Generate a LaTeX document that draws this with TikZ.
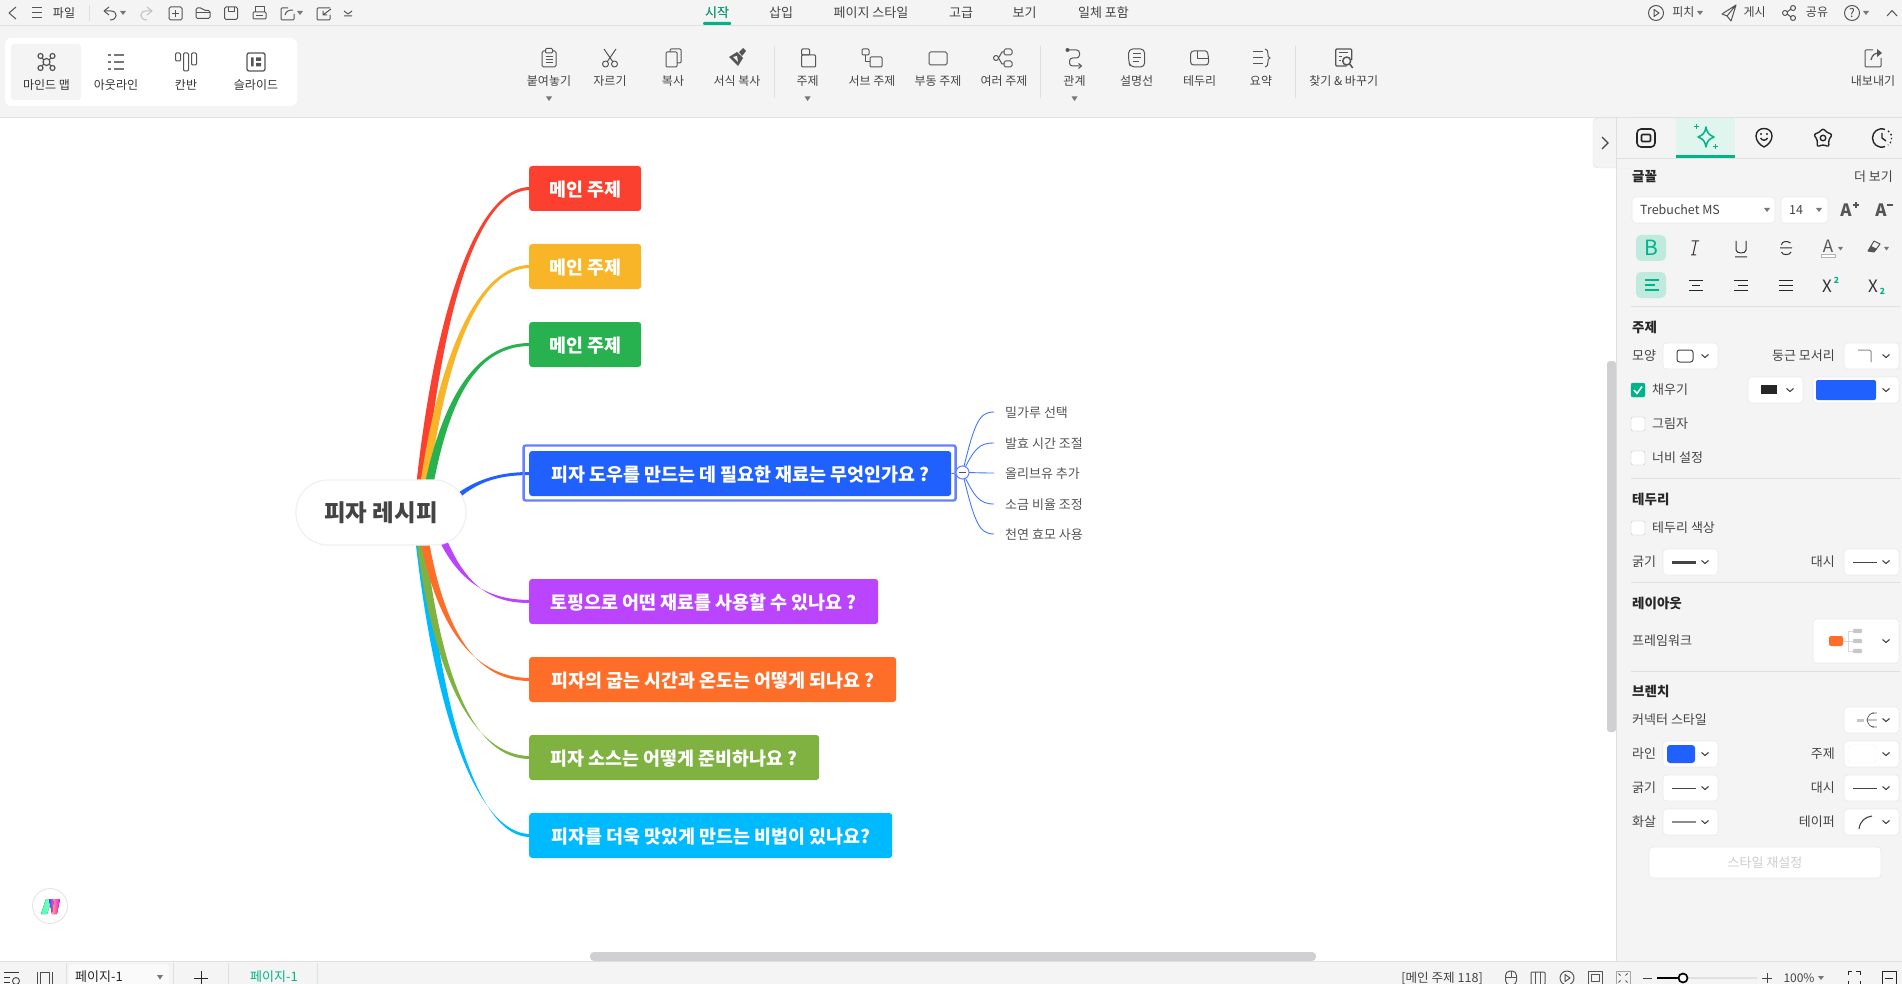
\documentclass[tikz,border=0pt]{standalone}
\usepackage{fontspec}
\setmainfont{Noto Sans CJK KR}
\usepackage{tikz}
\usetikzlibrary{calc,backgrounds}
\definecolor{cred}{HTML}{FC4030}
\definecolor{cyel}{HTML}{F8B528}
\definecolor{cgrn}{HTML}{27B14F}
\definecolor{cblu}{HTML}{2060FF}
\definecolor{cpur}{HTML}{BB44FF}
\definecolor{cora}{HTML}{FF6E28}
\definecolor{coli}{HTML}{7FB241}
\definecolor{ccya}{HTML}{00BAFF}
\definecolor{cfrm}{HTML}{6680FF}
\definecolor{cbar}{HTML}{F4F4F4}
\definecolor{cline}{HTML}{E0E0E0}
\definecolor{cico}{HTML}{555555}
\definecolor{ctxt}{HTML}{444444}
\definecolor{cact}{HTML}{00B388}
\definecolor{csel}{HTML}{C0EADD}
\definecolor{cscr}{HTML}{D0D0D3}

\begin{document}
\begin{tikzpicture}[x=1pt,y=-1pt]
    \tikzstyle{ribtxt} = [font=\fontsize{12}{14}\selectfont,text=ctxt,inner sep=0,text height=10pt,text depth=1.5pt]
    \tikzstyle{tabtxt} = [font=\fontsize{13}{15}\selectfont,text=ctxt,inner sep=0,text height=11pt,text depth=1.5pt]
    \tikzstyle{paneltxt} = [font=\fontsize{13}{15}\selectfont,text=ctxt,inner sep=0,text height=11pt,text depth=1.5pt]
    \tikzstyle{panelhdr} = [font=\fontsize{13.5}{15}\selectfont\bfseries,text=black!85,anchor=west,inner sep=0,text height=11.5pt,text depth=1.5pt]
    \tikzstyle{topicbox} = [font=\fontsize{18.4}{20}\selectfont\bfseries,text=white,anchor=west,rounded corners=3,minimum height=45,inner sep=0,text height=17.5pt,text depth=2pt]
    \tikzstyle{subtxt} = [font=\fontsize{13}{15}\selectfont,text=cico,anchor=west,inner xsep=11pt,inner ysep=0,text height=13pt,text depth=1.5pt]
    \tikzstyle{rootbox} = [font=\fontsize{23.5}{26}\selectfont\bfseries,text=ctxt,fill=white,draw=black!6,line width=1.2,rounded corners=32,minimum width=170,minimum height=65,inner sep=0,text height=20pt,text depth=2.5pt]
    \tikzstyle{combobox} = [fill=white,draw=black!8,line width=.7,rounded corners=3.5]
    \tikzstyle{chev} = [draw=ctxt,line width=1.1]
    \tikzstyle{icon} = [draw=cico,line width=1,line join=round]
    \tikzstyle{sepline} = [draw=cline,line width=1]
    \tikzstyle{tick} = [fill=cico!80]
    \useasboundingbox (0,0) rectangle (1902,984);

    % bars
    \fill[cbar] (0,0) rectangle (1902,117);
    \draw[sepline] (0,25.5) -- (1902,25.5);
    \draw[sepline] (0,117.5) -- (1902,117.5);
    \fill[cbar] (0,961) rectangle (1902,984);
    \draw[sepline] (0,961) -- (1902,961);
    \fill[cbar] (1616.5,118) rectangle (1902,961);
    \draw[sepline] (1616.5,118) -- (1616.5,961);
    \fill[white,rounded corners=6] (5,38) rectangle (297,106);
    \fill[cbar,rounded corners=3] (11,44) rectangle (81,100);
    \filldraw[fill=cbar,draw=cline,rounded corners=5] (1630,118) -- (1593,118) -- (1593,168) -- (1630,168);
    \fill[cbar] (1617,118) rectangle (1630,168);
    \draw[sepline] (1616.5,118) -- (1616.5,168);
    \draw[chev] (1602,137) -- (1608,143) -- (1602,149);
    \fill[cscr,rounded corners=3] (1607,361) rectangle (1616,732);
    \fill[cscr,rounded corners=4] (590,952) rectangle (1316,961);

    % top bar texts
    \node[ribtxt,text=black!80] (file) at (64,13) {파일};
    \foreach \nm/\px/\txt in {tstart/717/시작,tins/781/삽입,tpage/871/페이지 스타일,tadv/961/고급,tview/1024.5/보기,tall/1103.5/일체 포함}
    {
      \node[tabtxt] (\nm) at (\px,12.5) {\txt};
    }
    \node[tabtxt,text=cact] at (tstart) {시작};
    \fill[cact,rounded corners=1] (703,22) rectangle (731,25);
    \foreach \nm/\px/\txt in {tpitch/1683.4/피치,tpub/1754.6/게시,tshare/1817/공유}
    {
      \node[ribtxt] (\nm) at (\px,12.5) {\txt};
    }
    \draw[sepline] (89,5) -- (89,21);

    % top bar icons
    \draw[icon] (16,7) -- (9,13) -- (16,19);
    \foreach \y in {8,13,18}
    {
      \draw[icon] (32,\y) -- (42,\y);
    }
    \draw[icon] (109,7) -- (104,11) -- (109,15);
    \draw[icon] (104,11) -- (111,11) .. controls (118,11) and (118,20) .. (110,20);
    \draw[icon,draw=black!25] (147,7) -- (152,11) -- (147,15);
    \draw[icon,draw=black!25] (152,11) -- (146,11) .. controls (139,11) and (139,20) .. (147,20);
    \draw[icon,rounded corners=1.5] (169,7) rectangle (182,20);
    \draw[icon] (172,13.5) -- (179,13.5) (175.5,10) -- (175.5,17);
    \draw[icon,rounded corners=1.5] (196,18.5) -- (196,8) -- (202,8) -- (204,10.5) -- (210,10.5) -- (210,18.5) -- cycle;
    \draw[icon] (196,13) -- (210,13);
    \draw[icon,rounded corners=1.5] (224.5,7) rectangle (237.5,19.5);
    \draw[icon] (228,7) -- (228,12) -- (234,12) -- (234,7);
    \draw[icon,rounded corners=1] (253,12) rectangle (266,19);
    \draw[icon] (255,12) -- (255,7) -- (264,7) -- (264,12) (256,16) -- (263,16);
    \draw[icon,rounded corners=1] (288,8) -- (281,8) -- (281,20) -- (294,20) -- (294,14);
    \draw[icon] (285,15) .. controls (286,11) and (289,10) .. (293,10);
    \draw[icon,rounded corners=1] (330,8) -- (317,8) -- (317,20) -- (330,20) -- (330,15);
    \draw[icon] (331,9) -- (323,15) (323,11) -- (323,15) -- (327,15);
    \draw[icon] (344,11) -- (348,14) -- (352,11) (344,16) -- (352,16);
    \foreach \x in {123,300}
    {
      \fill[tick] (\x-3,11) -- (\x+3,11) -- (\x,15) -- cycle;
    }

    % view buttons
    \foreach \nm/\px/\txt in {vmind/46.5/마인드 맵,vout/116/아웃라인,vkan/186/칸반,vsli/256/슬라이드}
    {
      \node[ribtxt,text=black!80] (\nm) at (\px,85) {\txt};
    }
    \begin{scope}[shift={(46.5,62)}]
      \draw[icon,line width=1.2] (-6,-5) -- (6,5) (6,-5) -- (-6,5);
      \filldraw[icon,line width=1.2,fill=cbar] (0,0) circle (3.5);
      \foreach \x/\y in {-6/-6,6/-6,-6/6,6/6}
      {
        \filldraw[icon,line width=1.2,fill=cbar] (\x,\y) circle (2.5);
      }
    \end{scope}
    \begin{scope}[shift={(116,62)}]
      \foreach \y in {-7,0,7}
      {
        \draw[icon,draw=cico!80,line width=1.3] (-8,\y) -- (-5,\y) (-2,\y) -- (8,\y);
      }
    \end{scope}
    \begin{scope}[shift={(186,62)}]
      \foreach \x/\y in {-8/-1,0/9,8/3}
      {
        \draw[icon,rounded corners=1.2] (\x-2.5,-9) rectangle (\x+2.5,\y);
      }
    \end{scope}
    \begin{scope}[shift={(256,62)}]
      \draw[icon,line width=1.3,rounded corners=2] (-9,-9) rectangle (9,9);
      \fill[cico] (-5,-4.5) rectangle (-2.5,4.5) (0,-4.5) rectangle (5,-1) (0,1) rectangle (5,4.5);
    \end{scope}

    % ribbon
    \foreach \nm/\px/\txt in {rpaste/549/붙여놓기,rcut/610/자르기,rcopy/673/복사,rform/737/서식 복사,rtop/807.6/주제,rsub/872/서브 주제,rflo/938/부동 주제,rmul/1004/여러 주제,rrel/1074.5/관계,rcal/1136.6/설명선,rbou/1199.6/테두리,rsum/1261/요약,rfind/1343.7/찾기 \& 바꾸기,rexp/1873/내보내기}
    {
      \node[ribtxt] (\nm) at (\px,81) {\txt};
    }
    \foreach \x in {549,807.6,1074.5}
    {
      \fill[tick] (\x-3,96.5) -- (\x+3,96.5) -- (\x,101) -- cycle;
    }
    \foreach \x in {774,1040.6,1295}
    {
      \draw[sepline] (\x,46) -- (\x,98);
    }
    \begin{scope}[shift={(549,58)}]
      \draw[icon,rounded corners=1.5] (-7,-7) rectangle (7,9);
      \filldraw[icon,fill=cbar,rounded corners=1] (-3.5,-9.5) rectangle (3.5,-5);
      \draw[icon] (-3.5,-1) -- (3.5,-1) (-3.5,2) -- (3.5,2) (-3.5,5) -- (3.5,5);
    \end{scope}
    \begin{scope}[shift={(610,58)}]
      \draw[icon] (-6,-9) -- (3,4) (6,-9) -- (-3,4);
      \draw[icon] (-4.5,6) circle (3) (4.5,6) circle (3);
    \end{scope}
    \begin{scope}[shift={(673,58)}]
      \draw[icon,rounded corners=1] (-3,-6) -- (-3,-9) -- (8,-9) -- (8,5) -- (4,5);
      \draw[icon,rounded corners=1] (-7,-6) rectangle (4,9);
    \end{scope}
    \begin{scope}[shift={(737,58)}]
      \fill[cico] (0,-6) -- (6,0) -- (1,8) -- (-8,-1) -- cycle;
      \fill[cico] (2,-6) -- (6,-10) -- (9,-7) -- (5,-2) -- cycle;
      \fill[cbar] (-4,-1) -- (0,-2) -- (1,4) -- cycle;
    \end{scope}
    \begin{scope}[shift={(807.6,58)}]
      \draw[icon,rounded corners=1] (-6,-9) rectangle (2,-3);
      \draw[icon,rounded corners=1] (-6,-3) rectangle (8,9);
      \draw[icon] (-6,1) -- (-6,3);
    \end{scope}
    \begin{scope}[shift={(872,58)}]
      \draw[icon,rounded corners=1] (-10,-9) rectangle (-3,-3);
      \draw[icon] (-6.5,-3) -- (-6.5,4) -- (-2,4);
      \draw[icon,rounded corners=1] (-2,-1) rectangle (10,9);
    \end{scope}
    \draw[icon,rounded corners=1.5] (929,52) rectangle (947,65);
    \begin{scope}[shift={(1004,58)}]
      \draw[icon,rounded corners=1.5] (0,-9) rectangle (8,-3);
      \draw[icon,rounded corners=1.5] (0,3) rectangle (8,9);
      \draw[icon] (-8,0) circle (2.5);
      \draw[icon] (-5.5,0) -- (-2,-6) -- (0,-6) (-5.5,0) -- (-2,6) -- (0,6);
    \end{scope}
    \begin{scope}[shift={(1074.5,58)}]
      \fill[cico] (-7,-8) circle (2);
      \draw[icon,rounded corners=3] (-7,-8) -- (5,-8) -- (5,0) -- (-5,0) -- (-5,8) -- (6,8);
      \draw[icon] (4,5.5) -- (7,8) -- (4,10.5);
    \end{scope}
    \begin{scope}[shift={(1136.6,58)}]
      \draw[icon,rounded corners=4] (-8,-9) -- (8,-9) -- (8,9) -- (-6,9) -- (-8,4) -- cycle;
      \draw[icon] (-4,-4) -- (4,-4) (-4,0) -- (4,0) (-4,4) -- (2,4);
    \end{scope}
    \begin{scope}[shift={(1199.6,58)}]
      \draw[icon,rounded corners=3] (-9,-7) -- (3,-7) .. controls (8,-7) and (9,-3) .. (9,7) -- (-9,7) -- cycle;
      \draw[icon] (-2,-7) -- (-2,1) -- (9,1);
    \end{scope}
    \begin{scope}[shift={(1261,58)}]
      \draw[icon] (-8,-6) -- (2,-6) (-8,0) -- (2,0) (-8,6) -- (2,6);
      \draw[icon] (4,-9) .. controls (9,-9) and (5,0) .. (9,0) .. controls (5,0) and (9,9) .. (4,9);
    \end{scope}
    \begin{scope}[shift={(1343.7,58)}]
      \draw[icon,line width=1.2,rounded corners=1] (3,8) -- (-8,8) -- (-8,-9) -- (8,-9) -- (8,2);
      \draw[icon] (-5,-5) -- (4,-5) (-5,-1) -- (-2,-1) (-5,3) -- (-3,3);
      \draw[icon,line width=1.5] (3,3) circle (4) (6,6) -- (9,10);
    \end{scope}
    \begin{scope}[shift={(1873,58)}]
      \draw[icon,rounded corners=1] (0,-8) -- (-8,-8) -- (-8,9) -- (8,9) -- (8,0);
      \draw[icon,line width=1.2] (-2,2) .. controls (-1,-3) and (2,-5) .. (6,-5);
      \fill[cico] (4,-9) -- (9,-5) -- (4,-1) -- cycle;
    \end{scope}

    % right of the top bar
    \draw[icon] (1656,13) circle (7.5);
    \draw[icon] (1654,9.5) -- (1659,13) -- (1654,16.5) -- cycle;
    \fill[tick] (1697,11) -- (1703,11) -- (1700,15) -- cycle;
    \draw[icon] (1736,5) -- (1722,14) -- (1727,16) -- (1736,5) -- (1731,21) -- (1727,16);
    \draw[icon] (1785,13) circle (2.5) (1793,8) circle (2.5) (1793,18) circle (2.5);
    \draw[icon] (1787,12) -- (1791,9) (1787,14) -- (1791,17);
    \draw[icon] (1852,13) circle (7.5);
    \node[ribtxt] (qmark) at (1852,13) {?};
    \fill[tick] (1863,11) -- (1869,11) -- (1866,15) -- cycle;
    \draw[icon] (1887,16) -- (1892,10.5) -- (1897,16);

    % panel tabs
    \fill[csel!50] (1676,118) rectangle (1735,155);
    \fill[cact] (1676,155) rectangle (1735,158);
    \draw[sepline] (1617,158.5) -- (1902,158.5);
    \begin{scope}[shift={(1646,138)},icon/.append style={draw=black!85,line width=1.6}]
      \draw[icon,rounded corners=4] (-9,-9) rectangle (9,9);
      \draw[icon,rounded corners=1] (-4.5,-3.5) rectangle (4.5,3.5);
    \end{scope}
    \begin{scope}[shift={(1706,137)}]
      \draw[draw=cact,line width=1.5,line join=round] (0,-10) .. controls (1,-4) and (3,-2) .. (8,0) .. controls (3,2) and (1,4) .. (0,10) .. controls (-1,4) and (-3,2) .. (-8,0) .. controls (-3,-2) and (-1,-4) .. (0,-10) -- cycle;
      \draw[cact,line width=1] (-10,-13) -- (-10,-8) (-12.5,-10.5) -- (-7.5,-10.5) (9,7) -- (9,12) (6.5,9.5) -- (11.5,9.5);
    \end{scope}
    \begin{scope}[shift={(1764,137)},icon/.append style={draw=black!85,line width=1.4}]
      \draw[icon] (0,10) .. controls (-4,8) and (-8,4) .. (-8,-1) .. controls (-8,-11) and (8,-11) .. (8,-1) .. controls (8,4) and (4,8) .. (0,10) -- cycle;
      \fill[black!85] (-3,-3) circle (1.1) (3,-3) circle (1.1);
      \draw[icon] (-3.5,1) .. controls (-1.5,4) and (1.5,4) .. (3.5,1);
    \end{scope}
    \begin{scope}[shift={(1823,138)},icon/.append style={draw=black!85,line width=1.4}]
      \draw[icon,rounded corners=2.5] (0,-10) -- (3,-6) -- (9.5,-3.5) -- (5.5,2) -- (6,9) -- (0,6.5) -- (-6,9) -- (-5.5,2) -- (-9.5,-3.5) -- (-3,-6) -- cycle;
      \draw[icon] (0,0) circle (2.8);
    \end{scope}
    \begin{scope}[shift={(1882,138)},icon/.append style={draw=black!85,line width=1.4}]
      \draw[icon] (3,-8.5) .. controls (-4,-11) and (-9.5,-6) .. (-9.5,0) .. controls (-9.5,6) and (-4,11) .. (3,8.5);
      \draw[icon] (0,-5) -- (0,0) -- (4,3);
      \draw[icon,dash pattern=on 1.5pt off 2.5pt] (6,-7) .. controls (9,-5) and (10,-2) .. (9.5,1) .. controls (9,4) and (8,6) .. (6,7);
    \end{scope}

    % panel
    \foreach \y in {306,478,582,671}
    {
      \draw[sepline] (1631,\y) -- (1900,\y);
    }
    \foreach \nm/\y/\txt in {hfont/177/글꼴,htop/327/주제,hbor/499/테두리,hlay/603/레이아웃,hbra/691/브렌치}
    {
      \node[panelhdr] (\nm) at (1632,\y) {\txt};
    }
    \foreach \xa/\ya/\xb/\yb in {1632/197/1775/223,1781/197/1828/223,1663/343/1718/369,1844/343/1899/369,1748/377/1803/403,1813/377/1899/403,1663/549/1718/575,1844/549/1899/575,1813/619/1899/663,1844/707/1899/733,1663/741/1718/767,1844/741/1899/767,1663/775/1718/801,1844/775/1899/801,1663/809/1718/835,1844/809/1899/835,1649/847/1881/878}
    {
      \filldraw[combobox] (\xa,\ya) rectangle (\xb,\yb);
    }
    \foreach \x/\y in {1705/356,1886/356,1790/390,1886/390,1705/562,1886/562,1886/641,1886/720,1705/754,1886/754,1705/788,1886/788,1705/822,1886/822}
    {
      \draw[chev] (\x-3.5,\y-1.5) -- (\x,\y+1.5) -- (\x+3.5,\y-1.5);
    }
    \foreach \x in {1767,1819}
    {
      \fill[tick] (\x-3,208) -- (\x+3,208) -- (\x,212) -- cycle;
    }
    \node[paneltxt,anchor=east] (more) at (1893,177) {더 보기};
    \node[paneltxt,anchor=west,font=\fontsize{12.5}{15}\selectfont] (fname) at (1640,210) {Trebuchet MS};
    \node[paneltxt,font=\fontsize{12.5}{15}\selectfont] (fsize) at (1796,210) {14};
    \foreach \nm/\y/\txt in {lshape/356/모양,lgrow/562/굵기,lline/754/라인,lthick/788/굵기,larrow/822/화살}
    {
      \node[paneltxt,anchor=west] (\nm) at (1632,\y) {\txt};
    }
    \foreach \nm/\y/\txt in {lround/356/둥근 모서리,ldash/562/대시,ltopic/754/주제,ldashb/788/대시,ltaper/822/테이퍼}
    {
      \node[paneltxt,anchor=east] (\nm) at (1835,\y) {\txt};
    }
    \node[paneltxt,anchor=west] (lframe) at (1632,641) {프레임워크};
    \node[paneltxt,anchor=west] (lconn) at (1632,720) {커넥터 스타일};
    \node[paneltxt,text=black!20] (lreset) at (1765,863) {스타일 재설정};

    % format rows
    \fill[csel,rounded corners=5] (1636,235) rectangle (1666,261);
    \fill[csel,rounded corners=5] (1636,272) rectangle (1666,298);
    \node[font=\fontsize{21}{22}\selectfont,text=cact,inner sep=0] (fbold) at (1651,248) {B};
    \draw[icon,draw=black!80] (1691.5,241) -- (1699,241) (1691,255) -- (1696,255) (1696,241) -- (1693,255);
    \draw[icon,draw=black!80] (1736,241) -- (1736,250) .. controls (1736,254) and (1746,254) .. (1746,250) -- (1746,241) (1735,257) -- (1747,257);
    \draw[icon,draw=black!80] (1780,248) -- (1792,248) (1790.5,243) .. controls (1788,240.5) and (1781,241) .. (1781.5,245) (1781.5,252) .. controls (1782,255.5) and (1790,255.5) .. (1791,252);
    \node[font=\fontsize{17}{20}\selectfont,text=cico,inner sep=0] (fcol) at (1828,246) {A};
    \draw[draw=black!30,fill=white] (1821,254) rectangle (1835,257);
    \fill[tick] (1838,247) -- (1843,247) -- (1840.5,250.5) -- cycle;
    \draw[icon] (1868,251) -- (1874,241) -- (1880,244) -- (1874,252) -- cycle;
    \fill[cico] (1868,251) -- (1871,246) -- (1877,249) -- (1874,252) -- cycle;
    \fill[tick] (1884,247) -- (1889,247) -- (1886.5,250.5) -- cycle;
    \draw[cact,line width=1.1] (1645,280) -- (1659,280) (1645,285) -- (1655,285) (1645,290) -- (1659,290);
    \draw[icon,draw=black!85] (1689,280) -- (1703,280) (1692,285) -- (1700,285) (1689,290) -- (1703,290);
    \draw[icon,draw=black!85] (1734,280) -- (1748,280) (1738,285) -- (1748,285) (1734,290) -- (1748,290);
    \draw[icon,draw=black!85] (1779,280) -- (1793,280) (1779,285) -- (1793,285) (1779,290) -- (1793,290);
    \node[font=\fontsize{17}{18}\selectfont,text=black!80,inner sep=0] (fsupx) at (1827,286) {X};
    \node[font=\fontsize{8.5}{9}\selectfont\bfseries,text=cact,inner sep=0] (fsupn) at (1836.5,280) {2};
    \node[font=\fontsize{17}{18}\selectfont,text=black!80,inner sep=0] (fsubx) at (1873,286) {X};
    \node[font=\fontsize{8.5}{9}\selectfont\bfseries,text=cact,inner sep=0] (fsubn) at (1882.5,291) {2};
    \node[font=\fontsize{17}{18}\selectfont\bfseries,text=cico,inner sep=0] (fincr) at (1846,210) {A};
    \draw[cico,line width=1.3] (1853,205) -- (1859,205) (1856,202) -- (1856,208);
    \node[font=\fontsize{17}{18}\selectfont\bfseries,text=cico,inner sep=0] (fdecr) at (1881,210) {A};
    \draw[cico,line width=1.3] (1887,205) -- (1893,205);

    % checkboxes
    \filldraw[fill=cact,draw=cact,rounded corners=2] (1631,383) rectangle (1645,397);
    \draw[white,line width=1.5] (1634,390) -- (1637,393.5) -- (1642,386.5);
    \foreach \y in {424,458,528}
    {
      \filldraw[fill=white,draw=black!25,rounded corners=2] (1631,\y-7) rectangle (1645,\y+7);
    }
    \foreach \nm/\y/\txt in {lfill/390/채우기,lshad/424/그림자,lwid/458/너비 설정,lbcol/528/테두리 색상}
    {
      \node[paneltxt,anchor=west] (\nm) at (1652,\y) {\txt};
    }

    % combo contents
    \draw[icon,draw=ctxt,rounded corners=2.5] (1677,350) rectangle (1693,362);
    \draw[icon,draw=cico!70,rounded corners=1.5] (1858,350) -- (1871,350) -- (1871,362);
    \fill[black!85] (1761,385) rectangle (1777,394);
    \fill[cblu,rounded corners=2] (1816,380) rectangle (1876,400);
    \draw[ctxt,line width=3] (1672,562) -- (1696,562);
    \draw[ctxt,line width=.8] (1853,562) -- (1877,562);
    \fill[cora,rounded corners=2] (1829,636) rectangle (1843,646);
    \draw[black!15,line width=1] (1843,641) -- (1853,641) (1848,631) -- (1848,651) (1848,631) -- (1853,631) (1848,651) -- (1853,651);
    \foreach \y in {631,641,651}
    {
      \fill[black!22,rounded corners=1] (1853,\y-2.2) rectangle (1862,\y+2.2);
    }
    \fill[black!22] (1857,718.5) rectangle (1864,721.5);
    \foreach \y in {713,720,727}
    {
      \fill[black!22] (1872,\y-1.3) rectangle (1877,\y+1.3);
    }
    \draw[cico,line width=.7] (1874,713) .. controls (1870,713) and (1868,716) .. (1867,720) .. controls (1868,724) and (1870,727) .. (1874,727) (1867,720) -- (1872,720);
    \fill[cblu,rounded corners=3] (1667,745) rectangle (1695,763);
    \filldraw[fill=white,draw=black!5,rounded corners=3] (1848,745) rectangle (1876,763);
    \draw[ctxt,line width=.8] (1672,788) -- (1696,788) (1853,788) -- (1877,788);
    \draw[black!45,line width=1.3] (1672,822) -- (1696,822);
    \draw[ctxt,line width=1.1] (1859,829) .. controls (1860,821) and (1865,817) .. (1872,816);

    % status bar
    \begin{scope}[shift={(12,978)}]
      \draw[icon,draw=black!80,line width=.8] (-8,-6) -- (7,-6) (-8,-1) -- (-2,-1) (-8,4) -- (-2,4);
      \draw[icon,draw=black!80,line width=.8] (4,3) circle (3.5);
    \end{scope}
    \draw[icon,draw=black!70,line width=.8] (37,972) -- (37,984) (52,972) -- (52,984);
    \draw[icon,draw=black!70,line width=.8] (40,972) rectangle (49,984);
    \draw[sepline] (66,963) -- (66,984);
    \filldraw[fill=black!2,draw=black!3,rounded corners=3] (69,964) rectangle (169,990);
    \node[ribtxt,text=black!85,font=\fontsize{13}{15}\selectfont] (pagea) at (99,977) {페이지-1};
    \fill[tick] (157,975) -- (163,975) -- (160,979.5) -- cycle;
    \draw[sepline] (173,963) -- (173,984);
    \draw[icon,draw=black!85,line width=.8] (194,978) -- (208,978) (201,971) -- (201,984);
    \draw[sepline] (228,963) -- (228,984);
    \node[ribtxt,text=cact,font=\fontsize{13}{15}\selectfont] (pageb) at (274,977) {페이지-1};
    \draw[sepline] (317,963) -- (317,984);
    \node[ribtxt,text=ctxt,font=\fontsize{12.6}{15}\selectfont] (stat) at (1442,978) {[메인 주제 118]};
    \begin{scope}[shift={(1511,978)}]
      \draw[icon,rounded corners=4.5] (-5.5,-7) rectangle (5.5,7);
      \draw[icon] (0,-7) -- (0,-1) (-5.5,-1) -- (5.5,-1);
    \end{scope}
    \begin{scope}[shift={(1538,978)}]
      \draw[icon,rounded corners=1] (-7,-6) rectangle (7,6.5);
      \draw[icon] (-2.5,-6) -- (-2.5,6.5) (2.5,-6) -- (2.5,6.5);
    \end{scope}
    \draw[icon] (1567,978) circle (7);
    \draw[icon] (1565,974.5) -- (1570,978) -- (1565,981.5) -- cycle;
    \draw[icon] (1588,971) rectangle (1602,985);
    \draw[icon] (1591,974.5) rectangle (1599,981.5);
    \draw[icon,draw=black!35,line width=.8] (1616,971) rectangle (1630,985);
    \foreach \sx/\sy in {1/1,-1/1,1/-1,-1/-1}
    {
      \draw[icon,line width=.8] ($(1623,978)+(\sx*2.5,\sy*2.5)$) -- ($(1623,978)+(\sx*4.5,\sy*4.5)$);
    }
    \draw[icon,draw=ctxt,line width=.9] (1643,978) -- (1652,978);
    \draw[black!12,line width=1.6] (1683,978) -- (1757,978);
    \draw[black,line width=1.6] (1657,978) -- (1683,978);
    \filldraw[fill=white,draw=black,line width=1.7] (1683,978) circle (4.5);
    \draw[icon,draw=ctxt,line width=.9] (1762,978) -- (1772,978) (1767,973) -- (1767,983);
    \node[ribtxt] (zoomp) at (1799,978) {100\%};
    \fill[tick] (1818,976) -- (1824,976) -- (1821,980) -- cycle;
    \draw[icon,draw=black!85,line width=.8] (1848,975) -- (1848,971) -- (1852,971) (1856,971) -- (1860,971) -- (1860,975) (1860,981) -- (1860,984) -- (1856,984) (1852,984) -- (1848,984) -- (1848,981);
    \draw[icon,draw=black!85,line width=.8] (1882,971) rectangle (1896,984);
    \draw[icon,draw=black!85,line width=.8] (1885,978) -- (1893,978);

    % logo
    \filldraw[fill=white,draw=black!10,line width=.9] (50,906) circle (17.5);
    \fill[left color=cyan!70!green!70,right color=green!70!cyan!50] (41,914) -- (46,899) -- (52,899) -- (47,914) -- cycle;
    \fill[left color=blue!70,right color=magenta!70] (49,899) -- (53,899) -- (54,906) -- (52,914) -- cycle;
    \fill[left color=orange!40!pink,right color=magenta] (52,914) -- (57,914) -- (60,899) -- (54,899) -- cycle;

    % map
    \node[draw=cfrm,line width=2.4,rounded corners=2,minimum width=432,minimum height=55,inner sep=0] (frm) at (739.6,473) {};
    \foreach \nm/\col/\yy/\ww/\txt in {n1/cred/188.5/112/메인 주제,n2/cyel/266.5/112/메인 주제,n3/cgrn/344.5/112/메인 주제,n4/cblu/473.5/422/피자 도우를 만드는 데 필요한 재료는 무엇인가요 ?,n5/cpur/601.5/349/토핑으로 어떤 재료를 사용할 수 있나요 ?,n6/cora/679.5/367/피자의 굽는 시간과 온도는 어떻게 되나요 ?,n7/coli/757.5/290/피자 소스는 어떻게 준비하나요 ?,n8/ccya/835.5/363/피자를 더욱 맛있게 만드는 비법이 있나요?}
    {
      \node[topicbox,fill=\col,minimum width=\ww] (\nm) at (529,\yy) {\txt};
    }
    \node[rootbox] (root) at (381,512.5) {피자 레시피};
    \node[draw=cfrm,fill=white,circle,line width=1,minimum size=13,inner sep=0] (fold) at (962.5,472.5) {};
    \draw[cico,line width=.8] ($(fold.center)+(-3.5,0)$) -- ($(fold.center)+(3.5,0)$);
    \foreach \nm/\yy/\txt in {s1/412/밀가루 선택,s2/443/발효 시간 조절,s3/473/올리브유 추가,s4/504/소금 비율 조정,s5/534/천연 효모 사용}
    {
      \node[subtxt] (\nm) at (994,\yy) {\txt};
    }
    \begin{scope}[on background layer]
      \fill[white] (0,118) rectangle (1616,961);
      \foreach \nm/\col/\dx/\ax/\ay/\bd in {n1/cred/37/56/300/49,n2/cyel/40/59/350/49,n3/cgrn/43/61/400/54,n4/cblu/59/84/485/39,n5/cpur/51/74/580/44,n8/ccya/36/56/724/49,n7/coli/37/53/680/54,n6/cora/39/54/620/59}
      {
        \fill[\col] ($(root.center)+(\dx-4.5,0)$) .. controls ($(root.center)+(\ax-4,\ay-512)$) and ($(\nm.west)+(-\bd,-1.7)$) .. ($(\nm.west)+(1,-1.5)$) -- ($(\nm.west)+(1,1.5)$) .. controls ($(\nm.west)+(-\bd,1.7)$) and ($(root.center)+(\ax+4,\ay-512)$) .. ($(root.center)+(\dx+4.5,0)$) -- cycle;
      }
      \foreach \nm/\cy in {s1/-50,s2/-24,s3/0,s4/24,s5/50}
      {
        \draw[cblu!85,line width=.9] (fold.center) .. controls ($(fold.center)+(12,\cy)$) and ($(\nm.west)+(-15,0)$) .. (\nm.west);
      }
      \draw[cblu!85,line width=.9] (n4.east) -- (fold.center);
    \end{scope}
\end{tikzpicture}
\end{document}
